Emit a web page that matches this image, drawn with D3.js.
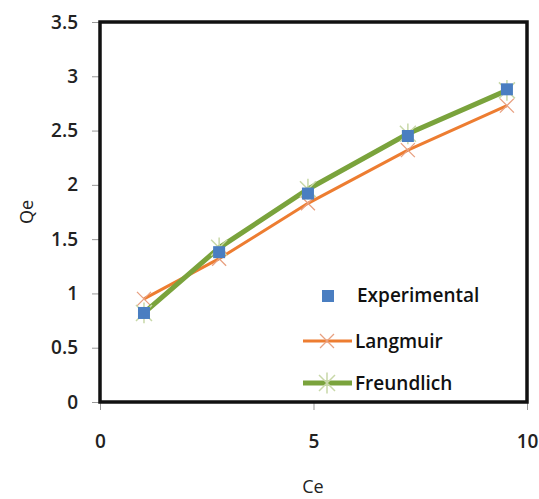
<!DOCTYPE html>
<html><head><meta charset="utf-8">
<script src="https://cdn.jsdelivr.net/npm/d3@7"></script>
<style>body{margin:0;background:#fff}svg text{font-family:"Open Sans","Liberation Sans",sans-serif}</style>
</head><body><svg id="c" width="539" height="499"></svg>
<script>
const ce = [1.03, 2.79, 4.87, 7.21, 9.53];
const experimental = [0.82, 1.38, 1.92, 2.45, 2.88];
const langmuir = [0.95, 1.32, 1.83, 2.32, 2.73];
const freundlich = [0.82, 1.42, 1.96, 2.47, 2.87];
const xTicks = [0, 5, 10];
const yTicks = [0, 0.5, 1, 1.5, 2, 2.5, 3, 3.5];

const svg = d3.select("#c");
const L = 100, R = 527, T = 22, B = 402;
const x = d3.scaleLinear().domain([0, 10]).range([L, R]);
const y = d3.scaleLinear().domain([0, 3.5]).range([B, T]);

// ticks
svg.append("g").attr("transform", `translate(${L},0)`)
  .call(d3.axisLeft(y).tickValues(yTicks).tickSize(8).tickFormat(d3.format("")))
  .call(g => { g.select(".domain").remove(); g.selectAll("line").attr("stroke", "#999");
    g.selectAll("text").attr("font-size", 19).attr("font-weight", 600).attr("fill", "#222").attr("x", -22); });
svg.append("g").attr("transform", `translate(0,${B})`)
  .call(d3.axisBottom(x).tickValues(xTicks).tickSize(8))
  .call(g => { g.select(".domain").remove(); g.selectAll("line").attr("stroke", "#999");
    g.selectAll("text").attr("font-size", 19).attr("font-weight", 600).attr("fill", "#222").attr("y", 46).attr("dy", 0); });

// frame
svg.append("rect").attr("x", L).attr("y", T).attr("width", R - L).attr("height", B - T)
  .attr("fill", "none").attr("stroke", "#111").attr("stroke-width", 3.5);

const line = d3.line().x(d => x(d[0])).y(d => y(d[1]));
const lp = ce.map((c, i) => [c, langmuir[i]]);
const fp = ce.map((c, i) => [c, freundlich[i]]);
const ep = ce.map((c, i) => [c, experimental[i]]);

const orange = "#ED7D31", green = "#7AA33C", blue = "#4A7EC1";

function xMark(g, cx, cy, s, col, w) {
  g.append("path").attr("d", `M${cx-s},${cy-s}L${cx+s},${cy+s}M${cx-s},${cy+s}L${cx+s},${cy-s}`)
    .attr("stroke", col).attr("stroke-width", w).attr("fill", "none");
}
function starMark(g, cx, cy, s, col, w) {
  g.append("path").attr("d", `M${cx-s},${cy-s}L${cx+s},${cy+s}M${cx-s},${cy+s}L${cx+s},${cy-s}M${cx},${cy-s*1.3}L${cx},${cy+s*1.3}`)
    .attr("stroke", col).attr("stroke-width", w).attr("fill", "none");
}

svg.append("path").datum(lp).attr("d", line).attr("fill", "none").attr("stroke", orange).attr("stroke-width", 3);
lp.forEach(d => xMark(svg, x(d[0]), y(d[1]), 7, "#E8A080", 1.3));
svg.append("path").datum(fp).attr("d", line).attr("fill", "none").attr("stroke", green).attr("stroke-width", 5);
fp.forEach(d => starMark(svg, x(d[0]), y(d[1]), 8, "#C8D8A8", 1.5));
svg.selectAll("rect.e").data(ep).join("rect").attr("class", "e")
  .attr("x", d => x(d[0]) - 6).attr("y", d => y(d[1]) - 6).attr("width", 12).attr("height", 12).attr("fill", blue);

// legend
const lg = svg.append("g");
lg.append("rect").attr("x", 322).attr("y", 290).attr("width", 12).attr("height", 12).attr("fill", blue);
lg.append("text").attr("x", 357).attr("y", 302).text("Experimental");
lg.append("line").attr("x1", 303).attr("x2", 352).attr("y1", 341).attr("y2", 341).attr("stroke", orange).attr("stroke-width", 3);
xMark(lg, 327, 341, 7, "#E8A080", 1.3);
lg.append("text").attr("x", 355).attr("y", 348).text("Langmuir");
lg.append("line").attr("x1", 303).attr("x2", 352).attr("y1", 383).attr("y2", 383).attr("stroke", green).attr("stroke-width", 5);
starMark(lg, 327, 383, 8, "#C8D8A8", 1.5);
lg.append("text").attr("x", 355).attr("y", 390).text("Freundlich");
lg.selectAll("text").attr("font-size", 19).attr("font-weight", 600).attr("fill", "#111");

svg.append("text").attr("transform", "translate(33,212) rotate(-90)").attr("text-anchor", "middle")
  .attr("font-size", 18).attr("fill", "#222").text("Qe");
svg.append("text").attr("x", 313).attr("y", 493).attr("text-anchor", "middle")
  .attr("font-size", 18).attr("fill", "#222").text("Ce");
</script></body></html>
